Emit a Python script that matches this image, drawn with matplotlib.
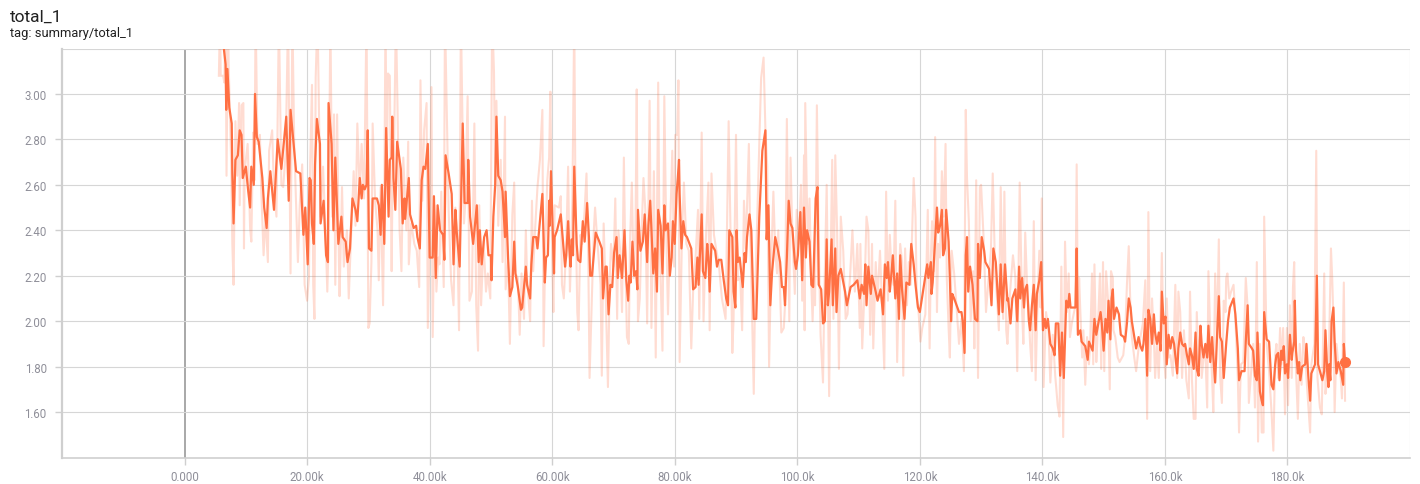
import matplotlib
matplotlib.use("Agg")
import matplotlib.pyplot as plt
import numpy as np

# ---------------- data (steps in thousands) ----------------
# smoothed (dark) series
smooth_steps = [
 6.0, 6.7, 6.8, 7.0, 7.3, 7.7, 7.8, 8.0, 8.3, 8.7, 9.0, 9.3, 9.5, 10.0, 10.4, 10.7, 10.9, 11.3, 11.5, 11.8,
 12.1, 12.7, 13.0, 13.4, 13.6, 14.0, 14.6, 15.2, 15.8, 16.6, 17.0, 17.3, 18.2, 18.9, 19.4, 19.7, 20.1, 20.4,
 20.6, 20.8, 21.1, 21.3, 21.6, 22.1, 22.2, 22.7, 23.1, 23.4, 23.5, 24.0, 24.3, 24.6, 25.1, 25.6, 25.8, 26.3,
 26.6, 27.0, 27.4,
 27.9, 28.2, 28.6, 28.9, 29.1, 29.4, 29.7, 29.9, 30.1, 30.5, 30.7, 31.4, 31.7, 32.0, 32.2, 32.6, 32.9, 33.3,
 33.5, 33.8, 33.9, 34.1, 34.4, 34.7, 35.3, 35.6, 35.9, 36.0, 36.6, 36.8, 37.4, 37.8, 38.0, 38.4, 38.7, 39.0,
 39.3, 39.7, 40.0, 40.5, 40.7, 41.0, 41.3, 41.7, 42.2, 42.4, 42.6, 43.1, 43.6, 43.9, 44.2, 44.4, 44.9, 45.4,
 45.7, 46.2, 46.3, 46.6, 47.1, 47.7, 48.0, 48.2, 48.5, 48.9, 49.3, 49.6, 50.0, 50.1, 50.4, 50.7, 50.9, 51.2,
 51.6, 51.9, 52.3, 52.4, 52.8, 53.1, 53.5, 53.8, 54.0, 54.4, 54.9, 55.1, 55.7, 55.9, 56.4, 56.6, 56.9, 57.4,
 57.6, 58.0, 58.4, 58.8, 59.0, 59.3, 59.5, 59.6, 59.8, 60.3, 60.4, 60.8, 61.4, 61.7, 62.1, 62.3, 62.6, 62.8,
 63.0, 63.2, 63.4, 63.6, 64.0, 64.2, 64.6, 65.0, 65.3, 65.7, 66.0, 66.2, 66.5, 67.1, 67.7, 68.1, 68.3, 68.7,
 68.9, 69.2, 69.5, 69.8, 70.1, 70.5, 70.7, 71.0, 71.4, 71.8, 72.1, 72.4, 72.6, 72.8, 73.1, 73.4, 73.7, 73.9,
 74.0, 74.4, 74.8, 75.1,
 75.5, 75.7, 76.0, 76.3, 76.5, 76.8, 77.1, 77.3, 77.7, 78.0, 78.3, 78.5, 78.9, 79.2, 79.5, 79.7, 80.0, 80.3,
 80.5, 80.7, 80.8, 81.1, 81.4, 81.7, 82.0, 82.7, 83.0, 83.4, 83.7, 83.9, 84.4, 84.6, 85.0, 85.3, 85.5, 85.7,
 86.0, 86.6, 86.9, 87.2, 87.6, 88.0, 88.4, 88.7, 88.9, 89.4, 89.6, 89.9, 90.1, 90.3, 90.6, 91.1, 91.4, 91.6,
 91.8, 92.2, 92.5, 92.9, 93.3, 93.8, 94.3, 94.8, 95.0, 95.3, 95.6, 95.9, 96.4, 96.8, 97.2, 97.5, 97.8, 98.0,
 98.3, 98.6,
 98.9, 99.2, 99.6, 99.8, 100.1, 100.5, 100.8, 101.1, 101.4, 101.6, 102.0, 102.3, 102.6, 103.0, 103.3, 103.5,
 103.9, 104.2, 104.5, 104.8, 105.0, 105.2, 105.6, 105.8, 106.2, 106.4, 106.7, 107.1, 107.8, 108.1, 108.7,
 109.2, 109.8, 110.2, 110.5, 110.9, 111.1, 111.3, 111.6, 112.0, 112.2, 112.8, 113.1, 113.6, 114.0, 114.3,
 114.6, 114.8, 115.1, 115.3, 115.6, 116.0, 116.3, 116.6, 116.8, 117.1, 117.5, 117.8, 118.3, 118.6, 119.0,
 119.3, 119.7, 120.0, 121.2, 121.4, 121.8, 121.9, 122.1,
 122.8, 123.0, 123.3, 123.6, 123.8, 124.1, 124.3, 124.7, 124.9, 125.1, 125.3, 125.6, 126.0, 126.4, 126.8,
 127.0, 127.3, 127.5, 127.7, 127.9, 128.2, 128.6, 129.0, 129.4, 129.5, 129.8, 130.1, 130.5, 130.7, 131.3,
 131.7, 132.0, 132.4, 132.9, 133.2, 133.5, 133.9, 134.3, 134.4, 134.8, 135.1, 135.6, 135.9, 136.2, 136.4,
 136.7, 137.0, 137.2, 137.5, 137.8, 138.0, 138.3, 138.6, 138.9, 139.1, 139.5, 139.8, 140.1, 140.4, 140.6,
 140.9, 141.3, 141.7, 142.0, 142.2, 142.6, 142.9, 143.2, 143.5, 143.9, 144.2, 144.4, 144.6, 145.4, 145.6,
 145.8, 146.2,
 146.4, 146.7, 147.0, 147.4, 147.6, 147.9, 148.2, 148.5, 148.8, 149.2, 149.5, 149.7, 150.0, 150.3, 150.6,
 150.8, 151.1, 151.3, 151.5, 151.7, 152.1, 152.5, 152.8, 153.3, 153.5, 153.8, 154.1, 154.4, 154.6, 155.0,
 155.3, 155.7, 156.0, 156.3, 156.5, 156.8, 157.1, 157.3, 157.6, 157.9, 158.2, 158.4, 158.7, 159.0, 159.3,
 159.5, 159.8, 160.1, 160.3, 160.6, 160.9, 161.2, 161.5, 162.0, 162.2, 162.5, 162.8, 163.1, 163.3, 163.6,
 163.9, 164.1, 164.4, 164.7, 165.0, 165.2, 165.5, 165.8, 166.0, 166.3, 166.6, 166.9, 167.1, 167.4, 167.7,
 167.9, 168.2, 168.5, 168.8, 169.0, 169.3, 169.6,
 170.0, 170.3, 170.6, 171.2, 171.5, 171.9, 172.1, 172.5, 173.0, 173.2, 173.5, 173.7, 174.2, 174.4, 174.7,
 175.0, 175.1, 175.5, 175.8, 176.0, 176.2, 176.6, 177.0, 177.4, 177.7, 178.0, 178.2, 178.5, 178.7, 179.0,
 179.2, 179.4, 179.6, 179.9, 180.1, 180.4, 180.7, 180.8, 181.1, 181.2, 181.4, 181.7, 181.9, 182.1, 182.4,
 182.9, 183.1, 183.4, 183.7, 183.9, 184.5, 184.8, 185.0, 185.3, 185.7, 186.0, 186.2, 186.5, 186.7, 186.8,
 187.0, 187.2, 187.5, 187.7, 188.0, 188.3, 188.7, 189.1, 189.2, 189.4,
]
smooth_values = [
 3.30, 3.13, 2.93, 3.11, 2.94, 2.87, 2.65, 2.43, 2.71, 2.73, 2.84, 2.82, 2.63, 2.68, 2.57, 2.50, 2.68, 2.60, 3.00, 2.81,
 2.79, 2.63, 2.50, 2.41, 2.54, 2.66, 2.49, 2.80, 2.67, 2.90, 2.53, 2.93, 2.66, 2.65, 2.38, 2.50, 2.25, 2.63,
 2.62, 2.43, 2.34, 2.69, 2.89, 2.78, 2.43, 2.53, 2.29, 2.26, 2.96, 2.78, 2.40, 2.72, 2.34, 2.46, 2.37, 2.35,
 2.26, 2.32, 2.54,
 2.49, 2.44, 2.63, 2.54, 2.60, 2.58, 2.60, 2.84, 2.32, 2.31, 2.54, 2.54, 2.51, 2.38, 2.60, 2.34, 2.85, 2.46,
 2.71, 2.72, 2.90, 2.63, 2.49, 2.79, 2.67, 2.43, 2.54, 2.45, 2.63, 2.47, 2.41, 2.42, 2.37, 2.32, 2.62, 2.68,
 2.67, 2.78, 2.28, 2.28, 2.55, 2.19, 2.51, 2.40, 2.38, 2.27, 2.73, 2.65, 2.56, 2.25, 2.49, 2.40, 2.24, 2.87,
 2.52, 2.52, 2.71, 2.46, 2.34, 2.51, 2.26, 2.40, 2.25, 2.37, 2.40, 2.29, 2.29, 2.18, 2.46, 2.60, 2.90, 2.64,
 2.62, 2.57, 2.37, 2.57, 2.28, 2.11, 2.15, 2.35, 2.21, 2.15, 2.05, 2.06, 2.24, 2.16, 2.10, 2.25, 2.37, 2.37,
 2.32, 2.44, 2.56, 2.17, 2.28, 2.29, 2.53, 2.42, 2.66, 2.21, 2.37, 2.40, 2.47, 2.37, 2.24, 2.29, 2.44, 2.32,
 2.24, 2.36, 2.29, 2.68, 2.34, 2.27, 2.26, 2.44, 2.35, 2.52, 2.37, 2.20, 2.20, 2.39, 2.35, 2.32, 2.10, 2.24,
 2.24, 2.03, 2.16, 2.15, 2.30, 2.37, 2.19, 2.29, 2.19, 2.40, 2.18, 2.09, 2.20, 2.17, 2.35, 2.20, 2.22, 2.14,
 2.49, 2.31, 2.35, 2.47,
 2.26, 2.42, 2.53, 2.34, 2.21, 2.32, 2.13, 2.49, 2.42, 2.21, 2.51, 2.40, 2.43, 2.20, 2.28, 2.44, 2.34, 2.56,
 2.63, 2.71, 2.56, 2.32, 2.44, 2.38, 2.37, 2.32, 2.14, 2.15, 2.28, 2.16, 2.47, 2.22, 2.19, 2.34, 2.28, 2.13,
 2.34, 2.31, 2.24, 2.27, 2.27, 2.18, 2.10, 2.07, 2.40, 2.37, 2.13, 2.06, 2.40, 2.26, 2.28, 2.15, 2.30, 2.26,
 2.37, 2.47, 2.40, 2.01, 2.01, 2.46, 2.75, 2.84, 2.36, 2.51, 2.07, 2.22, 2.37, 2.32, 2.26, 2.15, 2.15, 2.07,
 2.28, 2.53,
 2.43, 2.41, 2.26, 2.23, 2.29, 2.48, 2.18, 2.50, 2.28, 2.40, 2.35, 2.16, 2.15, 2.54, 2.59, 2.16,
 2.14, 1.99, 2.00, 2.36, 2.07, 2.13, 2.36, 2.07, 2.32, 2.04, 2.20, 2.23, 2.13, 2.07, 2.15,
 2.16, 2.18, 2.10, 2.16, 2.12, 2.25, 2.07, 2.24, 2.12, 2.20, 2.13, 2.09, 2.14, 2.03, 2.25,
 2.19, 2.26, 2.13, 2.19, 2.29, 2.10, 2.21, 2.01, 2.29, 2.14, 2.01, 2.17, 2.16, 2.34, 2.25,
 2.16, 2.06, 2.04, 2.25, 2.19, 2.26, 2.12, 2.17,
 2.50, 2.39, 2.42, 2.49, 2.29, 2.32, 2.49, 2.35, 2.19, 2.00, 2.12, 2.10, 2.07, 2.04, 2.04,
 2.00, 1.86, 2.29, 2.37, 2.13, 2.24, 2.16, 2.01, 2.00, 2.34, 2.19, 2.37, 2.31, 2.26, 2.23,
 2.07, 2.32, 2.26, 2.03, 2.25, 2.04, 2.25, 2.09, 2.10, 1.99, 2.10, 2.14, 2.00, 2.24, 2.10,
 2.19, 2.06, 2.14, 2.16, 2.00, 1.96, 2.07, 2.16, 1.96, 2.12, 2.18, 2.26, 1.96, 2.01, 1.97,
 2.01, 1.90, 1.88, 1.85, 1.99, 1.99, 1.76, 1.95, 1.75, 2.09, 2.06, 2.12, 2.06, 2.06, 2.32,
 1.94, 1.96,
 1.91, 1.90, 1.89, 1.83, 1.91, 1.89, 1.87, 2.01, 1.94, 2.00, 2.04, 1.99, 1.87, 2.01, 1.95,
 2.09, 1.92, 2.10, 2.14, 2.01, 2.06, 2.03, 1.94, 1.93, 1.91, 1.99, 2.10, 2.06, 2.00, 1.93,
 1.88, 1.93, 1.89, 1.87, 1.90, 2.01, 1.76, 2.05, 2.01, 1.90, 2.03, 1.95, 1.90, 1.95, 1.87,
 2.13, 1.99, 2.02, 1.81, 1.94, 1.88, 1.93, 1.90, 1.77, 1.88, 1.95, 1.90, 1.89, 1.90, 1.85,
 1.81, 1.88, 1.85, 1.79, 1.95, 1.79, 1.76, 1.98, 1.90, 1.84, 1.90, 1.84, 1.98, 1.82, 1.93,
 1.84, 1.73, 1.93, 2.11, 1.93, 1.91, 1.75,
 1.90, 2.00, 2.06, 2.10, 2.03, 1.88, 1.74, 1.78, 1.78, 1.91, 2.07, 1.90, 1.88, 1.87, 1.76,
 1.74, 1.95, 1.69, 1.65, 1.63, 2.04, 1.92, 1.91, 1.72, 1.70, 1.81, 1.85, 1.86, 1.74, 1.87,
 1.83, 1.89, 1.77, 1.81, 1.75, 1.94, 1.83, 1.86, 1.91, 2.09, 1.87, 1.77, 1.82, 1.74, 1.80,
 1.81, 1.90, 1.76, 1.65, 1.77, 1.81, 2.20, 1.81, 1.78, 1.74, 1.78, 1.96, 1.77, 1.71, 1.81,
 1.74, 2.00, 2.06, 1.91, 1.77, 1.82, 1.78, 1.72, 1.90, 1.82,
]

# raw (light) series
raw_steps = [
 5.6, 5.8, 5.9, 6.3, 6.5, 6.7, 6.85, 7.1, 7.2, 7.6, 7.8, 8.0, 8.3, 8.6, 8.9, 9.0, 9.3, 9.6, 9.7, 9.8,
 10.3, 10.7, 10.9, 11.2, 11.4, 11.6, 11.9, 12.3, 12.5, 12.9, 13.2, 13.6, 13.8, 14.3, 14.6, 15.0, 15.4, 15.8,
 16.1, 16.5, 16.9, 17.3, 17.6, 17.9, 18.5, 18.8, 19.2, 19.6, 20.0, 20.3, 20.5, 20.8, 21.0, 21.2, 21.4, 21.7,
 22.2, 22.6, 23.0, 23.3, 23.5, 23.8, 24.1, 24.4, 24.6, 24.9, 25.2, 25.3, 25.7, 26.0, 26.5, 26.8, 27.1, 27.6,
 27.9,
 28.2, 28.6, 28.9, 29.3, 29.7, 30.0, 30.2, 30.5, 30.7, 31.1, 31.5, 31.7, 32.0, 32.4, 32.6, 32.8, 33.0, 33.2,
 33.5, 33.8, 33.9, 34.2, 34.5, 34.7, 35.1, 35.4, 35.7, 36.2, 36.5, 36.6, 37.0, 37.5, 37.9, 38.3, 38.5, 38.8,
 39.1, 39.5, 39.7, 40.0, 40.3, 40.5, 40.8, 41.1, 41.4, 41.6, 41.9, 42.3, 42.5, 42.9, 43.1, 43.5, 43.9, 44.2,
 44.5, 44.8, 45.1, 45.6, 45.8, 46.2, 46.5, 46.9, 47.3, 47.6, 47.9, 48.1, 48.4, 48.8, 49.2, 49.5, 49.9, 50.2,
 50.5, 50.7, 50.9, 51.2,
 51.6, 51.9, 52.3, 52.4, 52.8, 53.1, 53.5, 53.8, 54.0, 54.4, 54.7, 55.0, 55.4, 55.7, 55.9, 56.4, 56.7, 56.9,
 57.2, 57.6, 58.0, 58.4, 58.6, 58.9, 59.2, 59.5, 59.7, 60.0, 60.2, 60.4, 61.1, 61.4, 61.6, 61.9, 62.3, 62.6,
 62.9, 63.1, 63.3, 63.6, 63.8, 64.1, 64.3, 64.6, 64.9, 65.3, 65.6, 65.9, 66.1, 66.5, 66.8, 67.0, 67.4, 67.9,
 68.1, 68.4, 68.7, 69.1, 69.4, 69.6, 70.0, 70.3, 70.6, 70.8, 71.1, 71.4, 71.7, 71.9, 72.2, 72.5, 72.7, 73.0,
 73.3, 73.6, 73.8, 74.0, 74.3, 74.6, 74.9, 75.2,
 75.5, 75.9, 76.2, 76.6, 76.9, 77.3, 77.5, 78.0, 78.3, 78.6, 78.9, 79.3, 79.6, 79.9, 80.1, 80.4, 80.6, 80.8,
 81.2, 81.5, 81.9, 82.3, 82.7, 83.0, 83.4, 83.8, 84.0, 84.4, 84.7, 85.0, 85.5, 85.7, 86.0, 86.4, 86.8, 87.2,
 87.7, 88.3, 88.8, 89.1, 89.4, 89.6, 90.0, 90.3, 90.7, 91.0, 91.3, 91.6, 92.1, 92.3, 92.6, 92.9, 93.1, 93.7,
 94.1, 94.5, 94.8, 95.1, 95.4, 95.7, 96.1, 96.4, 96.7, 96.9, 97.4, 97.8, 98.0, 98.3, 98.7,
 98.9, 99.2, 99.6, 99.9, 100.2, 100.6, 100.8, 101.1, 101.2, 101.3, 101.7, 102.0, 102.3, 102.5, 102.7, 102.9,
 103.2, 103.5, 103.8, 104.2, 104.4, 104.8, 105.2, 105.4, 105.7, 105.9, 106.2, 106.5, 106.8, 107.1, 107.5,
 107.9, 108.2, 108.6, 109.0, 109.4, 109.8, 110.2, 110.3, 110.6, 111.0, 111.3, 111.6, 111.9, 112.2, 112.4,
 112.8, 113.1, 113.5, 113.8, 114.2, 114.5, 114.8, 115.1, 115.4, 115.7, 116.0, 116.3, 116.6, 116.8, 117.1,
 117.3, 117.6, 117.9, 118.2, 118.5, 119.0, 119.3, 119.5, 119.8, 120.1, 120.4, 120.9, 121.3, 121.6, 121.8,
 122.0, 122.3,
 122.5, 122.8, 123.0, 123.3, 123.6, 123.9, 124.2, 124.4, 124.7, 124.9, 125.2, 125.6, 126.0, 126.4, 126.8,
 127.2, 127.5, 127.7, 128.0, 128.3, 128.7, 128.9, 129.2, 129.5, 129.8, 130.0, 130.4, 130.8, 131.2, 131.6,
 131.9, 132.3, 132.6, 132.9, 133.2, 133.6, 133.8, 134.1, 134.3, 134.7, 135.2, 135.6, 135.9, 136.3, 136.7,
 136.9, 137.2, 137.5, 137.7, 138.0, 138.3, 138.6, 138.9, 139.2, 139.5, 139.7, 139.9, 140.2, 140.6, 141.0,
 141.3, 141.7, 142.1, 142.5, 142.8, 143.1, 143.4, 143.7, 144.0, 144.3, 144.5, 144.8, 145.4, 145.6, 145.8,
 146.0,
 146.2, 146.5, 146.7, 147.0, 147.3, 147.6, 147.8, 148.1, 148.3, 148.5, 148.8, 149.0, 149.4, 149.6, 149.9,
 150.1, 150.4, 150.7, 151.0, 151.2, 151.5, 151.6, 151.9, 152.3, 152.6, 153.2, 153.5, 153.8, 154.1, 154.4,
 154.6, 155.0, 155.3, 155.7, 156.0, 156.4, 156.8, 157.1, 157.3, 157.6, 157.9, 158.2, 158.4, 158.7, 159.0,
 159.3, 159.5, 159.8, 160.1, 160.3, 160.6, 160.9, 161.3, 161.7, 162.0, 162.2, 162.5, 162.8, 163.1, 163.5,
 163.9, 164.1, 164.4, 164.7, 165.0, 165.2, 165.5, 165.8, 166.0, 166.3, 166.6, 166.9, 167.1, 167.4, 167.7,
 167.9, 168.2, 168.5, 168.8, 169.0, 169.3, 169.6, 169.9,
 170.0, 170.2, 170.5, 170.8, 171.2, 171.4, 171.9, 172.1, 172.4, 172.8, 173.2, 173.5, 173.7, 174.0, 174.4,
 174.7, 175.0, 175.2, 175.5, 175.8, 176.1, 176.2, 176.6, 177.0, 177.4, 177.7, 178.0, 178.2, 178.5, 178.8,
 179.0, 179.3, 179.6, 179.9, 180.1, 180.4, 180.7, 180.9, 181.1, 181.3, 181.7, 182.0, 182.3, 182.6, 182.8,
 183.1, 183.7, 183.9, 184.4, 184.7, 184.9, 185.3, 185.6, 186.0, 186.2, 186.5, 186.8, 187.1, 187.3, 187.5,
 187.7, 188.0, 188.3, 188.7, 188.9, 189.2, 189.4,
]
raw_values = [
 3.08, 3.35, 3.08, 3.08, 3.05, 3.35, 2.64, 3.35, 3.13, 2.71, 2.34, 2.16, 2.88, 2.64, 2.96, 2.51, 2.95, 2.96, 2.32, 2.66,
 2.78, 2.41, 2.35, 2.83, 2.62, 3.35, 2.78, 2.82, 2.59, 2.29, 2.46, 2.26, 2.75, 2.84, 2.57, 2.46, 3.35, 2.60,
 2.59, 2.74, 3.35, 2.21, 3.35, 2.78, 2.26, 2.51, 2.69, 2.16, 2.09, 2.19, 2.69, 3.04, 2.16, 2.01, 3.07, 3.35,
 2.46, 2.68, 2.40, 2.13, 2.34, 3.35, 2.46, 2.91, 2.16, 2.91, 2.26, 2.11, 2.59, 2.24, 2.40, 2.10, 2.32, 2.66,
 2.42,
 2.87, 2.56, 2.78, 2.54, 3.35, 1.97, 1.99, 2.26, 2.87, 2.53, 2.40, 2.18, 2.59, 2.07, 2.54, 3.35, 2.63, 3.09,
 3.08, 2.22, 2.51, 2.78, 3.35, 3.03, 2.40, 2.22, 2.72, 2.40, 2.79, 2.25, 2.43, 2.34, 2.31, 2.15, 3.06, 2.53,
 2.84, 2.96, 1.97, 2.34, 3.03, 1.93, 2.51, 2.13, 2.28, 2.25, 2.57, 2.15, 3.35, 2.78, 2.49, 2.18, 2.07, 2.50,
 2.40, 1.96, 3.35, 2.43, 2.51, 2.99, 2.09, 2.13, 2.87, 2.07, 1.87, 2.51, 2.07, 2.35, 2.13, 2.21, 2.10, 3.35,
 3.10, 2.60, 2.97, 2.42,
 2.71, 2.26, 2.90, 2.14, 2.26, 1.90, 2.47, 2.61, 2.21, 2.19, 1.94, 2.21, 2.01, 2.40, 2.19, 2.00, 2.53, 2.22,
 2.40, 2.59, 2.71, 2.93, 1.89, 2.35, 2.62, 2.72, 3.01, 2.28, 2.04, 2.51, 2.50, 2.55, 2.16, 2.10, 2.34, 2.68,
 2.13, 2.31, 2.54, 3.35, 2.53, 2.04, 1.96, 2.38, 2.34, 2.49, 2.65, 2.25, 1.75, 2.13, 2.40, 2.50, 2.34, 2.16,
 1.76, 2.43, 2.16, 1.71, 2.19, 2.34, 2.24, 2.54, 2.01, 2.40, 2.31, 2.04, 2.72, 2.34, 1.93, 1.90, 2.34, 2.61,
 2.19, 2.41, 3.02, 2.00, 2.10, 2.40, 2.63, 2.49,
 1.99, 2.97, 1.97, 2.66, 1.84, 3.05, 2.40, 1.87, 2.99, 2.41, 2.03, 2.46, 2.75, 2.24, 2.82, 2.82, 3.06, 1.82,
 2.40, 2.61, 2.34, 2.31, 1.88, 2.13, 2.28, 2.49, 2.01, 2.83, 2.00, 2.31, 2.61, 1.96, 2.65, 2.38, 2.31, 2.25,
 2.10, 2.01, 2.88, 2.40, 1.86, 2.01, 2.82, 2.18, 2.19, 1.96, 2.53, 2.32, 2.78, 2.40, 2.06, 1.68, 2.10, 2.68,
 3.07, 3.16, 2.84, 2.68, 1.80, 2.21, 2.57, 2.31, 2.21, 2.40, 1.95, 1.97, 2.07, 2.89, 2.00,
 2.72, 2.38, 2.12, 2.49, 2.34, 2.60, 2.09, 2.73, 1.96, 2.96, 2.34, 2.54, 2.16, 2.00, 2.19, 2.07,
 2.95, 2.35, 1.94, 1.73, 2.09, 2.60, 1.67, 2.19, 2.71, 2.01, 2.73, 2.40, 1.79, 2.46, 2.31,
 2.01, 2.03, 2.19, 2.40, 2.13, 2.34, 1.97, 2.34, 1.88, 2.16, 2.46, 2.40, 1.94, 2.34, 1.88,
 2.26, 2.10, 2.31, 2.10, 1.79, 2.57, 2.09, 2.38, 2.21, 2.16, 2.53, 1.82, 2.19, 2.34, 2.26,
 1.76, 2.32, 2.07, 2.26, 2.16, 2.63, 2.46, 2.10, 2.04, 1.91, 1.97, 2.03, 2.49, 1.88, 2.28,
 2.44, 2.22,
 2.81, 2.04, 2.34, 2.28, 2.66, 2.46, 2.78, 2.19, 1.97, 1.84, 2.31, 2.21, 2.06, 1.90, 2.01,
 1.78, 2.93, 2.63, 2.44, 2.00, 2.22, 1.88, 2.62, 1.75, 2.59, 2.60, 2.37, 2.04, 2.18, 2.31,
 2.65, 2.21, 2.10, 1.96, 2.59, 2.01, 2.57, 1.96, 1.90, 2.12, 2.29, 2.19, 1.78, 2.61, 2.04,
 1.90, 2.39, 2.16, 2.07, 1.90, 1.78, 2.44, 1.74, 2.07, 2.31, 2.06, 2.54, 1.71, 2.04, 1.96,
 1.73, 1.94, 1.76, 1.63, 1.58, 2.24, 1.49, 2.35, 2.04, 2.21, 1.93, 1.99, 2.07, 2.69, 1.96,
 2.19,
 2.04, 1.84, 1.96, 1.72, 1.93, 1.81, 1.90, 2.21, 1.81, 2.25, 1.82, 1.93, 2.21, 1.79, 2.26,
 1.78, 2.22, 2.10, 1.70, 2.22, 2.19, 1.96, 1.93, 1.84, 1.82, 1.85, 1.93, 2.16, 2.33, 2.03,
 1.93, 1.84, 1.78, 1.88, 1.93, 1.99, 2.18, 1.57, 2.48, 1.78, 2.10, 1.93, 1.75, 1.90, 1.75,
 2.04, 2.30, 1.87, 1.75, 2.10, 1.84, 1.85, 1.76, 2.16, 1.75, 2.13, 2.04, 1.75, 1.96, 1.74,
 1.66, 2.13, 1.75, 1.57, 1.57, 2.04, 1.81, 1.96, 1.75, 1.84, 1.87, 1.62, 2.22, 1.94, 1.75,
 1.60, 2.21, 1.94, 2.36, 1.76, 1.64, 2.09, 2.04,
 2.19, 2.21, 2.10, 2.13, 2.16, 2.07, 1.75, 1.51, 1.81, 1.82, 2.19, 2.06, 1.64, 1.75, 1.90,
 1.62, 2.26, 1.47, 1.90, 1.51, 1.51, 2.46, 1.90, 1.78, 1.60, 1.43, 1.85, 1.90, 1.75, 1.97,
 1.81, 1.97, 1.59, 1.97, 1.63, 2.07, 1.75, 2.15, 2.26, 1.85, 1.57, 1.90, 1.72, 1.93, 1.88,
 1.75, 1.51, 1.81, 1.90, 2.75, 1.75, 1.62, 1.59, 2.21, 1.68, 1.75, 1.90, 2.32, 2.19, 2.01,
 1.60, 1.90, 1.81, 1.75, 1.66, 2.17, 1.65,
]

x_ticks_k = [0, 20, 40, 60, 80, 100, 120, 140, 160, 180]
x_tick_labels = ["0.000", "20.00k", "40.00k", "60.00k", "80.00k",
                 "100.0k", "120.0k", "140.0k", "160.0k", "180.0k"]
y_ticks = [1.60, 1.80, 2.00, 2.20, 2.40, 2.60, 2.80, 3.00]
y_tick_labels = ["1.60", "1.80", "2.00", "2.20", "2.40", "2.60", "2.80", "3.00"]

title = "total_1"
subtitle = "tag: summary/total_1"

# ---------------- drawing ----------------
plt.rcParams['font.family'] = ['Roboto', 'DejaVu Sans']

W, H = 1420, 485
fig = plt.figure(figsize=(W / 100, H / 100), dpi=100)
fig.patch.set_facecolor('white')

ax = fig.add_axes([62 / W, 1 - 458.5 / H, (1410 - 62) / W, (458.5 - 49.5) / H])
ax.set_facecolor('white')

xs_s = np.array(smooth_steps) * 1000
xs_r = np.array(raw_steps) * 1000

line_color = '#ff7043'
ax.plot(xs_r, raw_values, color=line_color, alpha=0.24, lw=1.5, zorder=2)
ax.plot(xs_s, smooth_values, color=line_color, lw=1.6, zorder=3)
ax.plot([xs_s[-1]], [smooth_values[-1]], 'o', color=line_color, ms=7, zorder=4)

ax.set_xlim(-20000, 200000)
ax.set_ylim(1.40, 3.20)

grid_c = '#d6d6d6'
for t in x_ticks_k:
    if t == 0:
        ax.axvline(0, color='#9a9a9a', lw=1.2, zorder=1)
    else:
        ax.axvline(t * 1000, color=grid_c, lw=0.8, zorder=1)
ax.axvline(200000, color=grid_c, lw=0.8, zorder=1)
for v in y_ticks + [3.20]:
    ax.axhline(v, color=grid_c, lw=0.8, zorder=1)

ax.set_xticks([t * 1000 for t in x_ticks_k])
ax.set_xticklabels(x_tick_labels)
ax.set_yticks(y_ticks)
ax.set_yticklabels(y_tick_labels)

tick_c = '#8f8f99'
ax.tick_params(axis='both', colors='#cfcfcf', labelcolor=tick_c, labelsize=8.3,
               length=5, width=1)
ax.tick_params(axis='x', pad=4)
ax.tick_params(axis='y', pad=6)

for side in ['top', 'right']:
    ax.spines[side].set_visible(False)
ax.spines['left'].set_color('#cfcfcf')
ax.spines['left'].set_linewidth(1.6)
ax.spines['bottom'].set_color('#cfcfcf')
ax.spines['bottom'].set_linewidth(1.2)

fig.text(10 / W, 1 - 22 / H, title, fontsize=12.5, color='#212121', ha='left', va='baseline')
fig.text(10 / W, 1 - 37 / H, subtitle, fontsize=9.3, color='#212121', ha='left', va='baseline')

fig.savefig('out.png', dpi=100, facecolor='white')
